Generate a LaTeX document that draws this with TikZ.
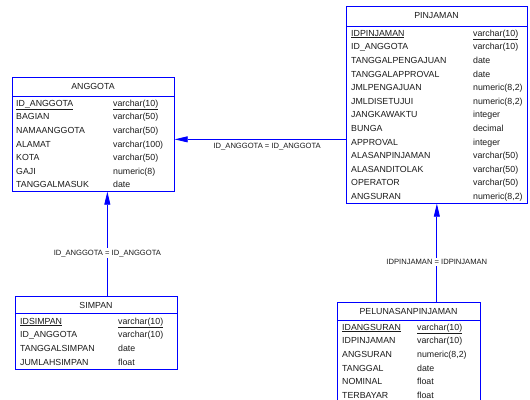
\documentclass[tikz,border=0pt]{standalone}
\usepackage{fontspec}
\setmainfont{Liberation Sans}
\usetikzlibrary{arrows.meta, positioning}
\definecolor{pdblue}{HTML}{0000FF}
\definecolor{pdtext}{HTML}{1A1A1A}

\begin{document}
\begin{tikzpicture}[x=1pt, y=-1pt,
    tbl/.style     = {rectangle, draw=pdblue, line width=0.7pt, anchor=north west, inner sep=0pt},
    tblname/.style = {inner sep=0pt, text=pdtext, font=\fontsize{8.8}{10}\selectfont},
    sep/.style     = {draw=pdblue, line width=0.7pt},
    fld/.style     = {anchor=west, inner sep=0pt, text height=6.4pt, text depth=0pt,
                      text=pdtext, font=\fontsize{8.8}{10}\selectfont},
    rel/.style     = {draw=pdblue, line width=0.8pt, -{Triangle[length=13pt,width=6pt]}},
    rellbl/.style  = {fill=white, inner sep=1.5pt, text=pdtext, font=\fontsize{7.6}{9}\selectfont}
  ]
  \clip (0,0) rectangle (530,399);

  % ── ANGGOTA ───────────────────────────────────────────────────────────────
  \node[tbl, minimum width=162pt, minimum height=114pt] (anggota) at (12,77) {};
  \node[tblname] (anggota-name) at (93,86.5) {ANGGOTA};
  \draw[sep] (12,96) -- (174,96);
  \node[fld] (anggota-k)  at (16,103)  {\underline{ID\_ANGGOTA}};
  \node[fld] (anggota-kt) at (113,103) {\underline{varchar(10)}};
  \foreach \f/\t [count=\i] in {BAGIAN/varchar(50), NAMAANGGOTA/varchar(50),
      ALAMAT/varchar(100), KOTA/varchar(50), GAJI/numeric(8), TANGGALMASUK/date} {
    \node[fld] (anggota-f\i) at (16,{103+13.6*\i})  {\f};
    \node[fld] (anggota-t\i) at (113,{103+13.6*\i}) {\t};
  }

  % ── PINJAMAN ──────────────────────────────────────────────────────────────
  \node[tbl, minimum width=181pt, minimum height=197pt] (pinjaman) at (346,6) {};
  \node[tblname] (pinjaman-name) at (436.5,16) {PINJAMAN};
  \draw[sep] (346,26) -- (527,26);
  \node[fld] (pinjaman-k)  at (351,33) {\underline{IDPINJAMAN}};
  \node[fld] (pinjaman-kt) at (473,33) {\underline{varchar(10)}};
  \foreach \f/\t [count=\i] in {ID\_ANGGOTA/varchar(10), TANGGALPENGAJUAN/date,
      TANGGALAPPROVAL/date, JMLPENGAJUAN/{numeric(8,2)}, JMLDISETUJUI/{numeric(8,2)},
      JANGKAWAKTU/integer, BUNGA/decimal, APPROVAL/integer, ALASANPINJAMAN/varchar(50),
      ALASANDITOLAK/varchar(50), OPERATOR/varchar(50), ANGSURAN/{numeric(8,2)}} {
    \node[fld] (pinjaman-f\i) at (351,{33+13.6*\i}) {\f};
    \node[fld] (pinjaman-t\i) at (473,{33+13.6*\i}) {\t};
  }

  % ── SIMPAN ────────────────────────────────────────────────────────────────
  \node[tbl, minimum width=162pt, minimum height=73pt] (simpan) at (15,296) {};
  \node[tblname] (simpan-name) at (96,305) {SIMPAN};
  \draw[sep] (15,313) -- (177,313);
  \node[fld] (simpan-k)  at (20,321)  {\underline{IDSIMPAN}};
  \node[fld] (simpan-kt) at (118,321) {\underline{varchar(10)}};
  \foreach \f/\t [count=\i] in {ID\_ANGGOTA/varchar(10), TANGGALSIMPAN/date,
      JUMLAHSIMPAN/float} {
    \node[fld] (simpan-f\i) at (20,{321+13.6*\i})  {\f};
    \node[fld] (simpan-t\i) at (118,{321+13.6*\i}) {\t};
  }

  % ── PELUNASANPINJAMAN ─────────────────────────────────────────────────────
  \node[tbl, minimum width=143pt, minimum height=112pt] (pelunasan) at (337,302) {};
  \node[tblname] (pelunasan-name) at (408.5,311) {PELUNASANPINJAMAN};
  \draw[sep] (337,320) -- (480,320);
  \node[fld] (pelunasan-k)  at (342,327) {\underline{IDANGSURAN}};
  \node[fld] (pelunasan-kt) at (417,327) {\underline{varchar(10)}};
  \foreach \f/\t [count=\i] in {IDPINJAMAN/varchar(10), ANGSURAN/{numeric(8,2)},
      TANGGAL/date, NOMINAL/float, TERBAYAR/float} {
    \node[fld] (pelunasan-f\i) at (342,{327+13.6*\i}) {\f};
    \node[fld] (pelunasan-t\i) at (417,{327+13.6*\i}) {\t};
  }

  % ── References ────────────────────────────────────────────────────────────
  \coordinate (pin-ref) at ([yshift=-5pt]pinjaman.west |- anggota.east);
  \draw[rel] (pin-ref) -- node[rellbl, below=2pt, pos=0.46, fill=none]{ID\_ANGGOTA = ID\_ANGGOTA}
    (pin-ref -| anggota.east);
  \coordinate (sim-ref) at ([xshift=11pt]simpan.north);
  \draw[rel] (sim-ref) -- node[rellbl, pos=0.41]{ID\_ANGGOTA = ID\_ANGGOTA}
    (sim-ref |- anggota.south);
  \draw[rel] (pelunasan.north -| pinjaman.south) -- node[rellbl, pos=0.41]{IDPINJAMAN = IDPINJAMAN}
    (pinjaman.south);

\end{tikzpicture}
\end{document}
